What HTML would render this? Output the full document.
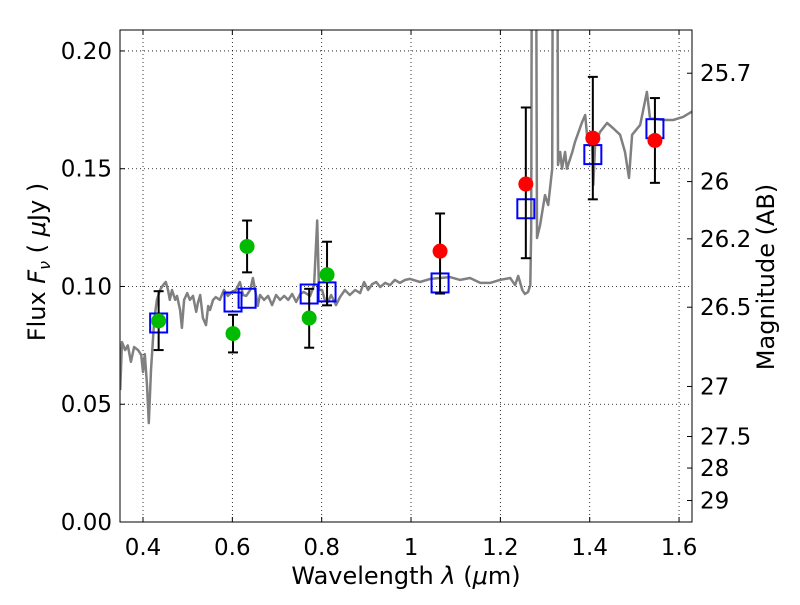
<!DOCTYPE html>
<html><head><meta charset="utf-8"><style>
body{margin:0;background:#fff;}
svg{font-family:"DejaVu Sans","Liberation Sans",sans-serif;}
</style></head><body>
<svg id="chart" width="800" height="600" xmlns="http://www.w3.org/2000/svg"></svg>
<script>
const specWl=[0.349,0.353,0.360,0.366,0.373,0.380,0.389,0.396,0.400,0.404,0.409,0.413,0.418,0.425,0.431,0.438,0.445,0.451,0.456,0.460,0.465,0.472,0.476,0.483,0.487,0.492,0.499,0.505,0.512,0.519,0.523,0.528,0.534,0.541,0.546,0.550,0.557,0.563,0.572,0.581,0.590,0.599,0.608,0.617,0.624,0.631,0.640,0.646,0.653,0.657,0.662,0.671,0.680,0.689,0.698,0.707,0.716,0.725,0.734,0.743,0.752,0.760,0.774,0.783,0.790,0.794,0.801,0.807,0.814,0.821,0.832,0.841,0.852,0.863,0.875,0.886,0.895,0.904,0.913,0.922,0.931,0.942,0.953,0.964,0.975,0.987,0.998,1.020,1.043,1.065,1.087,1.110,1.132,1.155,1.177,1.199,1.222,1.233,1.240,1.249,1.255,1.262,1.267,1.269,1.271,1.276,1.280,1.282,1.289,1.300,1.307,1.316,1.318,1.327,1.329,1.334,1.338,1.345,1.349,1.361,1.367,1.383,1.390,1.394,1.405,1.408,1.412,1.423,1.439,1.452,1.468,1.479,1.488,1.495,1.513,1.528,1.535,1.564,1.587,1.609,1.631];
const specFlux=[0.056,0.0764,0.073,0.075,0.068,0.0743,0.073,0.0709,0.0637,0.0713,0.0582,0.042,0.0645,0.0858,0.0943,0.0985,0.1006,0.1019,0.0985,0.0943,0.0985,0.0943,0.096,0.090,0.0824,0.0943,0.0972,0.0943,0.096,0.0892,0.093,0.0964,0.0866,0.0836,0.0917,0.090,0.0943,0.0955,0.0943,0.0985,0.096,0.0977,0.0985,0.1019,0.0964,0.096,0.0985,0.1036,0.0964,0.0917,0.0964,0.0943,0.096,0.0921,0.0964,0.0943,0.096,0.0943,0.0968,0.0934,0.0968,0.0977,0.096,0.1006,0.128,0.0985,0.0985,0.0943,0.0934,0.0964,0.0921,0.0955,0.0985,0.0964,0.0985,0.0972,0.1019,0.0985,0.101,0.1019,0.0998,0.1015,0.1006,0.1028,0.1015,0.1028,0.1032,0.1019,0.1032,0.1036,0.104,0.1028,0.1036,0.1015,0.1015,0.1028,0.1036,0.1006,0.1045,0.0985,0.0968,0.0977,0.1006,0.124,0.30,0.30,0.25,0.1206,0.1261,0.1388,0.1346,0.150,0.30,0.30,0.1516,0.1571,0.150,0.1571,0.150,0.1571,0.1614,0.1698,0.1728,0.1644,0.163,0.1431,0.160,0.1656,0.1694,0.1673,0.1644,0.1571,0.1461,0.1644,0.1686,0.1826,0.1715,0.1707,0.1707,0.172,0.1745];
const greenWl=[0.435,0.6015,0.633,0.772,0.812];
const greenFlux=[0.0854,0.080,0.117,0.0866,0.105];
const greenHi=[0.098,0.088,0.128,0.099,0.119];
const greenLo=[0.073,0.072,0.106,0.074,0.092];
const redWl=[1.065,1.257,1.407,1.546];
const redFlux=[0.115,0.1435,0.163,0.162];
const redHi=[0.131,0.176,0.189,0.180];
const redLo=[0.097,0.112,0.137,0.144];
const modelWl=[0.435,0.6015,0.633,0.772,0.812,1.065,1.257,1.407,1.546];
const modelFlux=[0.0845,0.0934,0.095,0.0968,0.0977,0.1015,0.133,0.156,0.167];
const xTicks=[0.4,0.6,0.8,1.0,1.2,1.4,1.6];
const xTickLabels=["0.4","0.6","0.8","1","1.2","1.4","1.6"];
const yTicks=[0,0.05,0.10,0.15,0.20];
const yTickLabels=["0.00","0.05","0.10","0.15","0.20"];
const magTicks=[25.7,26,26.2,26.5,27,27.5,28,29];

const L=120,R=692,T=30,B=522;
const X0=0.3485,X1=1.629,Y0=0,Y1=0.2089;
const sx=v=>L+(v-X0)/(X1-X0)*(R-L);
const sy=v=>B-(v-Y0)/(Y1-Y0)*(B-T);
const NS="http://www.w3.org/2000/svg";
const svg=document.getElementById('chart');
function mk(tag,attrs,parent){const e=document.createElementNS(NS,tag);for(const k in attrs)e.setAttribute(k,attrs[k]);(parent||svg).appendChild(e);return e;}

const defs=mk('defs',{});
const cp=mk('clipPath',{id:'clip'},defs);mk('rect',{x:L,y:T,width:R-L,height:B-T},cp);

const grid=mk('g',{});


xTicks.forEach(v=>{mk('line',{x1:sx(v),x2:sx(v),y1:T,y2:B,stroke:'#000','stroke-width':0.8,'stroke-dasharray':'1,3'},grid);});
yTicks.forEach(v=>{mk('line',{x1:L,x2:R,y1:sy(v),y2:sy(v),stroke:'#000','stroke-width':0.8,'stroke-dasharray':'1,3'},grid);});

const plot=mk('g',{'clip-path':'url(#clip)'});
let d='';specWl.forEach((w,i)=>{d+=(i?'L':'M')+sx(w).toFixed(1)+','+sy(specFlux[i]).toFixed(1);});
const sp=mk('path',{d:d,fill:'none',stroke:'#808080','stroke-width':2.5,'stroke-linejoin':'round'},plot);



modelWl.forEach((w,i)=>{const r=mk('rect',{x:sx(w)-8.5,y:sy(modelFlux[i])-9.5,width:17,height:19,fill:'none',stroke:'#0000ff','stroke-width':2},plot);

});

function obs(wl,fl,hi,lo,col,name){wl.forEach((w,i)=>{const g=mk('g',{},plot);


const x=sx(w);
mk('line',{x1:x,x2:x,y1:sy(hi[i]),y2:sy(lo[i]),stroke:'#000','stroke-width':2},g);
mk('line',{x1:x-5,x2:x+5,y1:sy(hi[i]),y2:sy(hi[i]),stroke:'#000','stroke-width':2},g);
mk('line',{x1:x-5,x2:x+5,y1:sy(lo[i]),y2:sy(lo[i]),stroke:'#000','stroke-width':2},g);
mk('circle',{cx:x,cy:sy(fl[i]),r:7.5,fill:col},g);});}
obs(greenWl,greenFlux,greenHi,greenLo,'#00bb00','green-data-point');
obs(redWl,redFlux,redHi,redLo,'#ff0000','red-data-point');

const fr=mk('rect',{x:L,y:T,width:R-L,height:B-T,fill:'none',stroke:'#000','stroke-width':1});



xTicks.forEach((v,i)=>{const x=sx(v);
mk('line',{x1:x,x2:x,y1:B,y2:B-5,stroke:'#000'});mk('line',{x1:x,x2:x,y1:T,y2:T+5,stroke:'#000'});
const t=mk('text',{x:x,y:B+33,'font-size':23,'text-anchor':'middle'});t.textContent=xTickLabels[i];

});
yTicks.forEach((v,i)=>{const y=sy(v);
mk('line',{x1:L,x2:L+5,y1:y,y2:y,stroke:'#000'});
const t=mk('text',{x:L-8,y:y+8,'font-size':23,'text-anchor':'end'});t.textContent=yTickLabels[i];

});
magTicks.forEach(m=>{const f=Math.pow(10,(23.9-m)/2.5);const y=sy(f);
mk('line',{x1:R,x2:R-5,y1:y,y2:y,stroke:'#000'});
const t=mk('text',{x:R+8,y:y+8,'font-size':23});t.textContent=String(m);

});

const xt=mk('text',{x:406,y:584,'font-size':24,'text-anchor':'middle'});
xt.innerHTML='Wavelength  <tspan font-style="italic">λ</tspan> (<tspan font-style="italic">μ</tspan>m)';


const yt=mk('text',{x:0,y:0,'font-size':24,'text-anchor':'middle',transform:'translate(45,262) rotate(-90)'});
yt.setAttribute('xml:space','preserve');
yt.innerHTML='Flux  <tspan font-style="italic">F</tspan><tspan font-style="italic" font-size="16" dy="5">ν</tspan><tspan dy="-5">  (  </tspan><tspan font-style="italic">μ</tspan>Jy )';


const rt=mk('text',{x:0,y:0,'font-size':24,'text-anchor':'middle',transform:'translate(774,277) rotate(-90)'});
rt.textContent='Magnitude (AB)';


</script>
</body></html>
